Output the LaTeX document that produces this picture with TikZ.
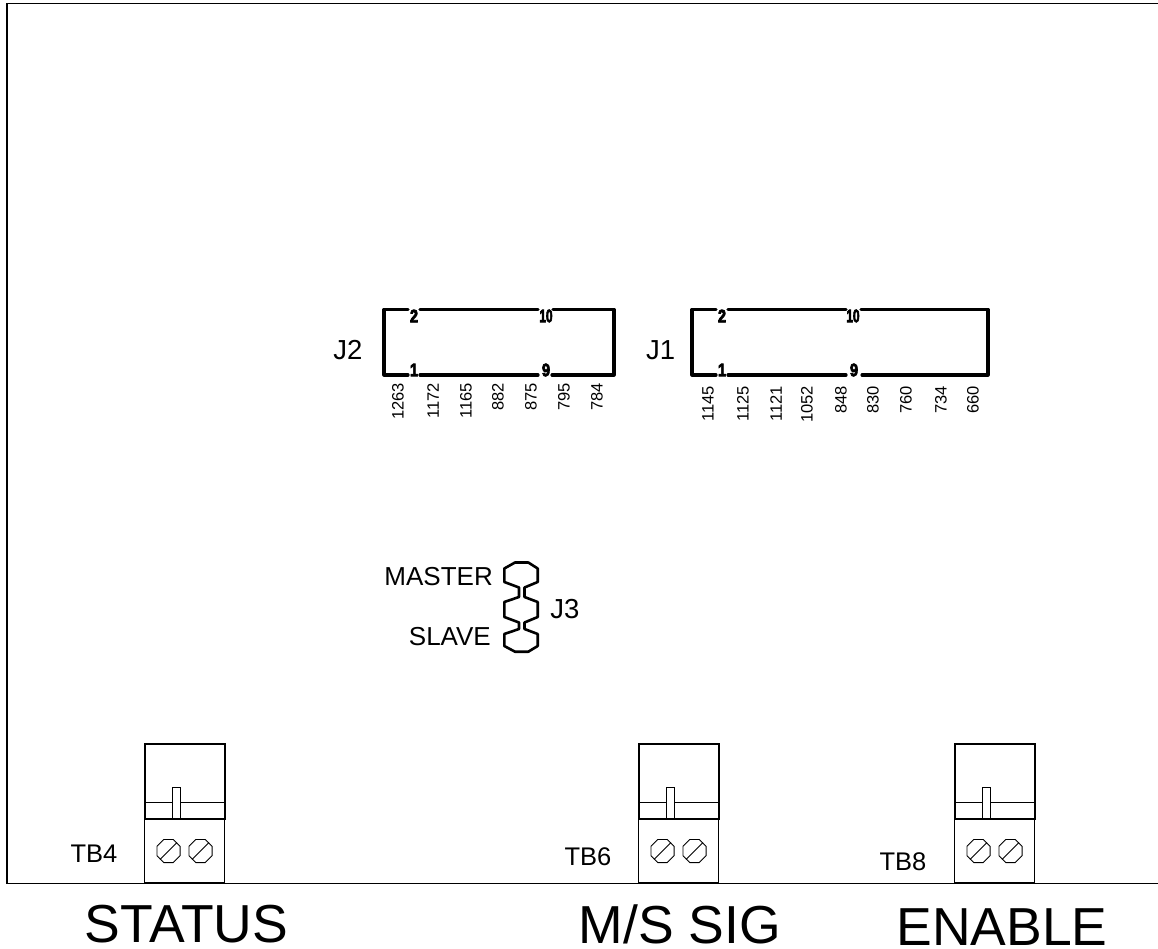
\documentclass[tikz,border=0pt]{standalone}
\usepackage{fontspec}
\usepackage{graphicx}
\setmainfont{Liberation Sans}
\newfontfamily\pinfont{Liberation Sans Bold}[FakeBold=5]
\usetikzlibrary{shapes.geometric}
\tikzset{
    jbox/.style={line width=3.2pt, line join=round, line cap=round},
    tbbox/.style={line width=2pt},
    pinno/.style={font=\fontsize{18}{18}\pinfont, inner sep=0pt},
    wireno/.style={font=\fontsize{16.5}{17}\selectfont, inner sep=0pt, rotate=90, anchor=east},
    jlabel/.style={font=\fontsize{27.5}{28}\selectfont, inner sep=0pt},
    mslabel/.style={font=\fontsize{26}{26}\selectfont, inner sep=0pt, anchor=east},
    tblabel/.style={font=\fontsize{25.5}{26}\selectfont, inner sep=0pt},
    title/.style={font=\fontsize{53.5}{54}\selectfont, inner sep=0pt},
    screw/.style={draw, regular polygon, regular polygon sides=8, minimum size=25pt, inner sep=0pt, line width=0.9pt}
}
\begin{document}
\begin{tikzpicture}[x=1pt, y=-1pt]
    \useasboundingbox (0,0) rectangle (1158,949);
    \draw[line width=1.3pt] (1158,3.5) -- (7,3.5) -- (7,883.3) -- (1158,883.3);

    \draw[jbox] (408,309.5) -- (384,309.5) -- (384,375) -- (408,375);
    \draw[jbox] (420,309.5) -- (538,309.5);
    \draw[jbox] (420,375) -- (538,375);
    \draw[jbox] (553,309.5) -- (614,309.5) -- (614,375) -- (552,375);
    \node[pinno] (jtwotwo) at (414,316) {\scalebox{.8}[1]{2}};
    \node[pinno] (jtwoten) at (546,316) {\scalebox{.65}[1]{10}};
    \node[pinno] (jtwoone) at (414,370) {\scalebox{.8}[1]{1}};
    \node[pinno] (jtwonine) at (546,370) {\scalebox{.8}[1]{9}};
    \node[jlabel] (jtwo) at (348,350) {J2};
    \foreach \x/\t in {398/1263,433/1172,466/1165,498/882,531/875,564/795,597/784}
        \node[wireno] (w\t) at (\x,382.7) {\t};

    \draw[jbox] (716,309.5) -- (692,309.5) -- (692,375) -- (716,375);
    \draw[jbox] (728,309.5) -- (846,309.5);
    \draw[jbox] (728,375) -- (846,375);
    \draw[jbox] (861,309.5) -- (988,309.5) -- (988,375) -- (862,375);
    \node[pinno] (joneTwo) at (722,316) {\scalebox{.8}[1]{2}};
    \node[pinno] (joneTen) at (853,316) {\scalebox{.65}[1]{10}};
    \node[pinno] (joneOne) at (722,370) {\scalebox{.8}[1]{1}};
    \node[pinno] (joneNine) at (854,370) {\scalebox{.8}[1]{9}};
    \node[jlabel] (jone) at (660.7,350) {J1};
    \foreach \x/\t in {708/1145,743/1125,776/1121,807/1052,841/848,873/830,906/760,941/734,973/660}
        \node[wireno] (w\t) at (\x,385.7) {\t};

    \draw[line width=2.6pt, line join=round] (515,562.5) -- (504.3,568.5) -- (504.3,582) -- (519,587.5) -- (519,597) -- (504.3,602)
        -- (504.3,617) -- (519,622.5) -- (519,629) -- (504.3,634) -- (504.3,646) -- (515,651.7) -- (528.3,651.7)
        -- (537.7,646) -- (537.7,634) -- (524.5,629) -- (524.5,622.5) -- (537.7,617) -- (537.7,602) -- (524.5,597)
        -- (524.5,587.5) -- (537.7,582) -- (537.7,568.5) -- (528.3,562.5) -- cycle;
    \node[mslabel] (master) at (493,577) {MASTER};
    \node[mslabel] (slave) at (491,637) {SLAVE};
    \node[jlabel] (jthree) at (565,609) {J3};

    \foreach \n/\x in {four/144.5,six/638.5,eight/954.5} {
        \draw[tbbox] (\x,743.5) rectangle ++(80,75.5);
        \draw[line width=1.4pt] (\x,802.7) -- ++(80,0);
        \draw[line width=1.4pt, fill=white] (\x+28,819) -- ++(0,-31.7) -- ++(8,0) -- ++(0,31.7);
        \draw[line width=1.7pt] (\x,819) rectangle ++(80,64.3);
        \draw[tbbox] (\x,819) -- ++(80,0);
        \node[screw] (s\n a) at (\x+24,851) {};
        \node[screw] (s\n b) at (\x+56,851) {};
        \draw[line width=0.9pt] (s\n a.225) -- (s\n a.45);
        \draw[line width=0.9pt] (s\n b.225) -- (s\n b.45);
    }
    \node[tblabel] (tbfour) at (94,854) {TB4};
    \node[tblabel] (tbsix) at (588,857) {TB6};
    \node[tblabel] (tbeight) at (903,862) {TB8};

    \node[title] (status) at (186.5,924.5) {STATUS};
    \node[title] (mssig) at (680,924.5) {M/S SIG};
    \node[title] (enable) at (1002,927) {ENABLE};
\end{tikzpicture}
\end{document}
